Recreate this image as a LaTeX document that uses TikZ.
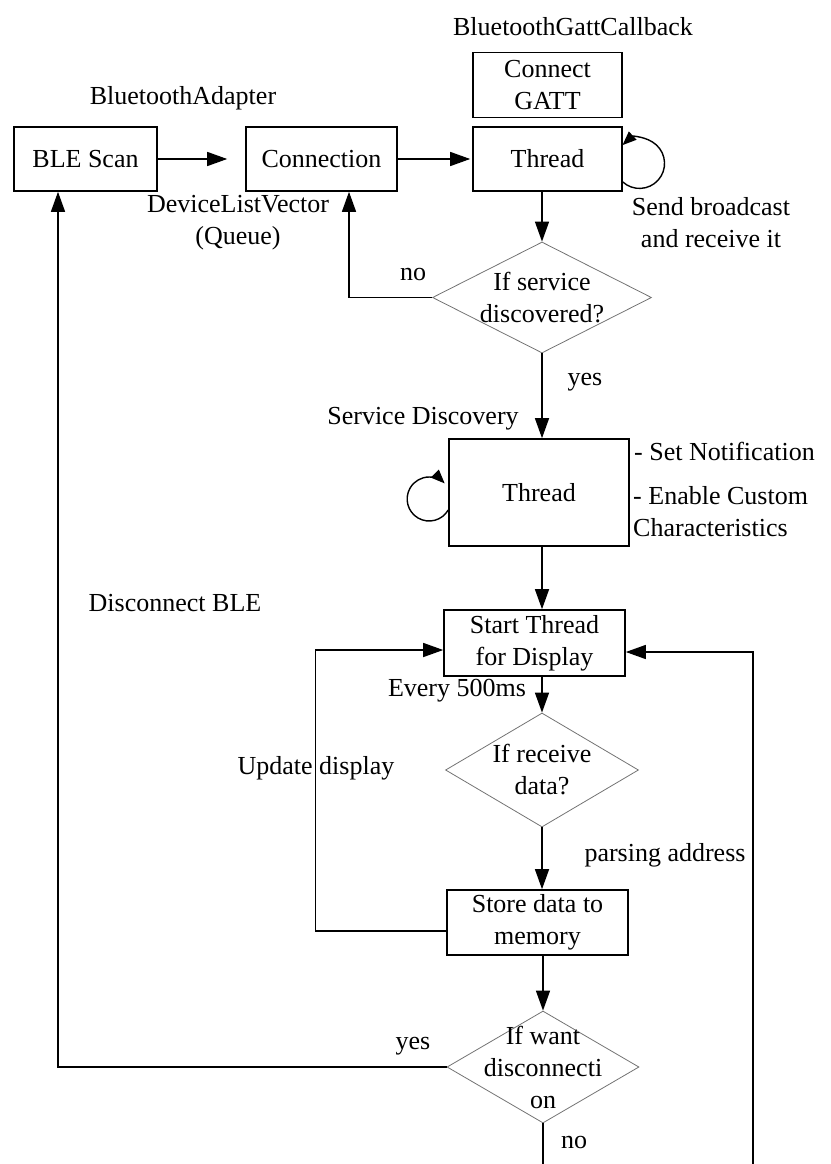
\documentclass[tikz,border=0pt]{standalone}
\usepackage{fontspec}
\setmainfont{Liberation Serif}
\usetikzlibrary{shapes.geometric,arrows.meta,positioning}
\tikzset{
	block/.style={draw, line width=1.6pt, align=center, inner sep=0pt, font=\fontsize{26}{32}\selectfont},
	decision/.style={diamond, draw=black!55, line width=0.8pt, inner sep=0pt},
	txt/.style={align=center, inner sep=0pt, font=\fontsize{26}{32}\selectfont},
	line/.style={line width=1.4pt},
	arrow/.style={line width=1.4pt, -{Triangle[length=20pt,width=14pt]}},
	loopback/.style={line width=1.4pt, -{Triangle[length=14pt,width=11pt]}},
}

\begin{document}
\begin{tikzpicture}[x=1pt,y=1pt]
	\useasboundingbox (0,0) rectangle (830,-1164);

	\node[block, minimum width=143pt, minimum height=64pt] (scan) at (85.5,-159) {BLE Scan};
	\node[block, minimum width=151pt, minimum height=64pt] (conn) at (321.5,-159) {Connection};
	\node[block, minimum width=149pt, minimum height=64pt] (thr1) at (547.5,-159) {Thread};
	\node[block, minimum width=149pt, minimum height=65pt, above=8pt of thr1] (gatt) {Connect\\GATT};

	\node[decision, minimum width=219pt, minimum height=111pt] (d1) at (542,-297.5) {};
	\node[txt] (d1t) at (d1) {If service\\discovered?};
	\node[block, minimum width=180pt, minimum height=107pt] (thr2) at (539,-492.5) {Thread};
	\node[block, minimum width=181pt, minimum height=66pt] (start) at (534.5,-643) {Start Thread\\for Display};
	\node[decision, minimum width=193pt, minimum height=114pt] (d2) at (542,-770) {};
	\node[txt] (d2t) at (d2) {If receive\\data?};
	\node[block, minimum width=181pt, minimum height=65pt] (store) at (537.5,-922.5) {Store data to\\memory};
	\node[decision, minimum width=192pt, minimum height=112pt] (d3) at (543,-1067) {};
	\node[txt] (d3t) at (d3) {If want\\disconnecti\\on};

	\node[txt] (gattcb) at (573,-27) {BluetoothGattCallback};
	\node[txt] (adapter) at (183,-98) {BluetoothAdapter};
	\node[txt] (dlv) at (238,-223) {DeviceListVector\\(Queue)};
	\node[txt] (send) at (711,-223) {Send broadcast\\and receive it};
	\node[txt] (no1) at (413,-274) {no};
	\node[txt] (yes1) at (585,-382) {yes};
	\node[txt] (svc) at (423,-419) {Service Discovery};
	\node[txt, anchor=west] (notif) at (634,-451) {- Set Notification};
	\node[txt, anchor=west, align=left] (custom) at (633,-512) {- Enable Custom\\Characteristics};
	\node[txt] (disc) at (175,-603) {Disconnect BLE};
	\node[txt] (every) at (457,-691) {Every 500ms};
	\node[txt] (update) at (316,-768) {Update display};
	\node[txt] (parse) at (665,-855) {parsing address};
	\node[txt] (yes2) at (413,-1046) {yes};
	\node[txt] (no2) at (574,-1142) {no};

	\coordinate (noend) at (d3.south |- 0,-1164);
	\coordinate (back) at (753,-1164);

	\draw[arrow, shorten >=18pt] (scan) -- (conn);
	\draw[arrow, shorten >=2pt] (conn) -- (thr1);
	\draw[loopback] ([yshift=-23pt]thr1.east) arc[start angle=228, end angle=493, radius=25pt];
	\draw[arrow] (thr1.south -| d1.north) -- (d1.north);
	\draw[arrow] (d1.west) -| ([xshift=27.5pt]conn.south);
	\draw[arrow] (d1.south) -- (thr2.north -| d1.south);
	\draw[loopback] ([yshift=-17.5pt]thr2.west) arc[start angle=-30, end angle=-315, radius=22pt];
	\draw[arrow] (thr2.south -| d2.north) -- (start.north -| d2.north);
	\draw[arrow] (start.south -| d2.north) -- (d2.north);
	\draw[arrow] (d2.south) -- (store.north -| d2.south);
	\draw[arrow] (store.south -| d3.north) -- (d3.north);
	\draw[arrow] ([yshift=-8.5pt]store.west) -| ([xshift=-128pt,yshift=-7pt]start.west) -- ([yshift=-7pt]start.west);
	\draw[arrow] (d3.west) -| ([xshift=-27.5pt]scan.south);
	\draw[line] (d3.south) -- (noend);
	\draw[arrow] (back) |- ([yshift=-9pt]start.east);
\end{tikzpicture}
\end{document}
